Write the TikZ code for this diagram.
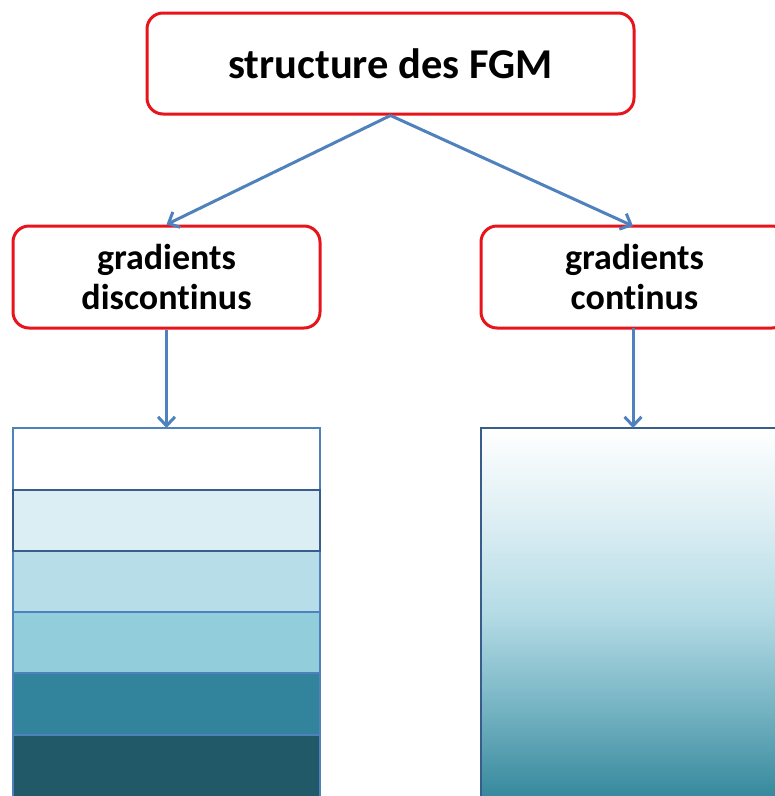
\documentclass[tikz,border=0pt]{standalone}
\usepackage{fontspec}
\setmainfont{Carlito}[Ligatures=NoCommon]
\usetikzlibrary{arrows.meta}
\definecolor{boxred}{HTML}{E8141C}
\definecolor{arrowblue}{HTML}{4F81BD}
\definecolor{darkedge}{HTML}{385D8A}
\definecolor{s1}{HTML}{FFFFFF}
\definecolor{s2}{HTML}{DAEEF3}
\definecolor{s3}{HTML}{B7DEE8}
\definecolor{s4}{HTML}{92CDDC}
\definecolor{s5}{HTML}{31849B}
\definecolor{s6}{HTML}{215968}
\definecolor{g0}{HTML}{34879C}
\definecolor{g1}{HTML}{76B4C3}
\definecolor{g2}{HTML}{B4DBE5}
\definecolor{g3}{HTML}{DCEEF3}
\pgfdeclareverticalshading{fgmshade}{100bp}{color(0bp)=(g0); color(25bp)=(g0); color(37.5bp)=(g1); color(50bp)=(g2); color(62.5bp)=(g3); color(75bp)=(white); color(100bp)=(white)}
\tikzset{
  redbox/.style={draw=boxred, line width=3pt, rounded corners=16pt, fill=white, inner sep=0pt, align=center, font=\bfseries},
  conn/.style={draw=arrowblue, line width=3pt, -{Straight Barb[length=9pt,width=17pt,line width=3pt]}},
  stripe/.style={draw=arrowblue, line width=2.4pt}
}
\begin{document}
\begin{tikzpicture}[x=1pt,y=-1pt]
\useasboundingbox (0,0) rectangle (775,796);
\clip (0,0) rectangle (775,796);
\fill[white] (0,0) rectangle (775,796);
% boxes
\node[redbox, minimum width=487pt, minimum height=101pt, font=\bfseries\fontsize{42.5}{46}\selectfont] (top) at (390.5,63.5) {structure des FGM};
\node[redbox, minimum width=307pt, minimum height=102pt, font=\bfseries\fontsize{36}{40}\selectfont] (left) at (166.5,277) {gradients\\discontinus};
\node[redbox, minimum width=307pt, minimum height=102pt, font=\bfseries\fontsize{36}{40}\selectfont] (right) at (634.5,277) {gradients\\continus};
% coordinates
\coordinate (ltop) at (166.5,428);
\coordinate (rtop) at (633,428);
\coordinate (rin) at (633,226);
\coordinate (rout) at (633,328);
% left stack
\fill[s1] (13,428) rectangle (320,490);
\fill[s2] (13,490) rectangle (320,551);
\fill[s3] (13,551) rectangle (320,612);
\fill[s4] (13,612) rectangle (320,673);
\fill[s5] (13,673) rectangle (320,735);
\fill[s6] (13,735) rectangle (320,810);
\draw[stripe] (13,428) rectangle (320,490);
\draw[stripe] (13,551) rectangle (320,612);
\draw[stripe] (13,612) rectangle (320,673);
\draw[stripe] (13,673) rectangle (320,735);
\draw[stripe] (13,735) rectangle (320,810);
\draw[draw=darkedge, line width=2.4pt] (13,490) rectangle (320,551);
% right gradient
\shade[shading=fgmshade] (481,428) rectangle (790,800);
\draw[draw=darkedge, line width=2.4pt] (481,428) rectangle (790,810);
% connectors
\draw[conn] (top.south) -- (left.north);
\draw[conn] (top.south) -- (rin);
\draw[conn] (left.south) -- (ltop);
\draw[conn] (rout) -- (rtop);
\end{tikzpicture}
\end{document}
